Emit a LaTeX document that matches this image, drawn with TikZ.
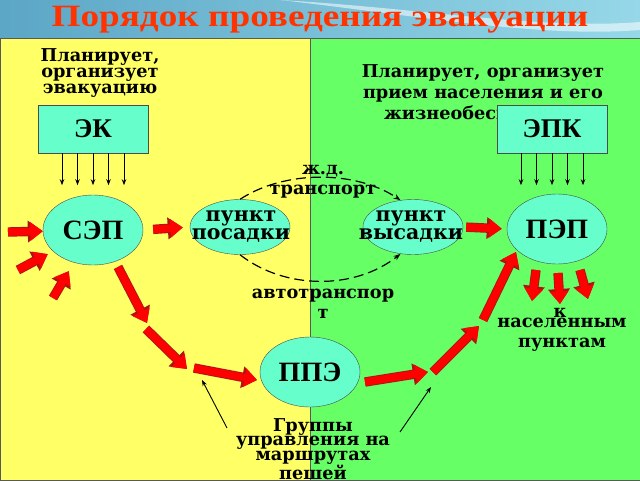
\documentclass[tikz,border=0pt]{standalone}
\usepackage{graphicx}
\usepackage{fontspec}
\setmainfont{DejaVu Serif}
\newfontfamily\timesfont{Liberation Serif}
\usetikzlibrary{positioning, arrows.meta, shapes.geometric}
\definecolor{panelyellow}{RGB}{255,255,102}
\definecolor{panelgreen}{RGB}{102,255,102}
\definecolor{aqua}{RGB}{102,255,204}
\definecolor{titlered}{RGB}{255,51,0}
\definecolor{arrowedge}{RGB}{170,20,20}
\definecolor{bannerleft}{RGB}{92,166,198}
\definecolor{bannerright}{RGB}{150,216,232}

\begin{document}
\begin{tikzpicture}
    [
        x=1pt, y=-1pt, node distance=173pt, on grid,
        box_node/.style={rectangle, draw=black!70, fill=aqua, minimum width=110pt, minimum height=48pt, font=\timesfont\bfseries\fontsize{27}{27}\selectfont},
        big_ell/.style={ellipse, draw=black!70, fill=aqua, minimum width=100pt, minimum height=70pt, inner sep=0pt, font=\timesfont\bfseries\fontsize{28}{28}\selectfont},
        small_ell/.style={ellipse, draw=black!70, fill=aqua, minimum width=100pt, minimum height=55pt, inner sep=0pt},
        ell_text/.style={align=center, inner sep=0pt, font=\bfseries\fontsize{20.5}{18}\selectfont},
        plain_text/.style={align=center, inner sep=0pt, font=\bfseries\fontsize{17.7}{20}\selectfont},
        red_arrow/.style={preaction={draw, line width=9.4pt, color=arrowedge, -{Triangle[width=21pt, length=15pt]}}, line width=7.6pt, color=red, -{Triangle[width=18pt, length=12.5pt]}},
        thin_arrow/.style={line width=0.9pt, color=black, -{Stealth[length=6pt, width=4.5pt]}},
        dash_arrow/.style={line width=1.2pt, color=black, dash pattern=on 10pt off 5pt, -{Stealth[length=7pt, width=5pt]}},
    ]
        \useasboundingbox (0,0) rectangle (640,480) ;
        \shade[left color=bannerleft, right color=bannerright] (0,0) rectangle (640,38) ;
        \fill[white, opacity=0.55] (280,0) .. controls (420,8) and (540,30) .. (640,22) -- (640,30) .. controls (540,38) and (420,16) .. (280,0) -- cycle ;
        \draw[fill=panelyellow, draw=black!65, line width=0.8pt] (0,38) rectangle (310,480) ;
        \draw[fill=panelgreen, draw=black!65, line width=0.8pt] (310,38) rectangle (640,480) ;
        \node[font=\timesfont\bfseries\fontsize{31}{31}\selectfont, text=titlered] (title) at (320,20) {\scalebox{1.2}[1]{Порядок проведения эвакуации}} ;
        \node[plain_text, font=\bfseries\fontsize{17.7}{16}\selectfont] (plan_left) at (100,73) {Планирует,\\организует\\эвакуацию} ;
        \node[plain_text, font=\bfseries\fontsize{17.7}{21}\selectfont] (plan_right) at (483,92) {Планирует, организует\\прием населения и его\\жизнеобеспечение} ;
        \node[box_node] (ek) at (93,129) {ЭК} ;
        \node[box_node] (epk) at (552,129) {ЭПК} ;
        \node[big_ell] (sep) at (93,230) {СЭП} ;
        \node[small_ell, label={[ell_text, xshift=1pt]center:{пункт\\посадки}}] (posadka) at (240,227) {} ;
        \node[small_ell, label={[ell_text, xshift=-2pt]center:{пункт\\высадки}}] (vysadka) [right = of posadka] {} ;
        \node[big_ell] (pep) at (557,229) {ПЭП} ;
        \node[big_ell] (ppe) at (310,372) {ППЭ} ;
        \node[plain_text] (zd_txt) at (323,182) {ж.д.\\транспорт} ;
        \node[plain_text] (avto_txt) at (323,304) {автотранспор\\т} ;
        \node[plain_text] (k_txt) at (560,313) {к} ;
        \node[plain_text] (nas_txt) at (562,335) {населенным\\пунктам} ;
        \node[plain_text, font=\bfseries\fontsize{17.7}{14.5}\selectfont] (group_txt) at (313,449) {Группы\\управления на\\маршрутах\\пешей} ;
        \foreach \dx in {-31,-15.5,0,15.5,31} {
            \draw[thin_arrow] ([xshift=\dx pt]ek.south) -- ++(0,32) ;
            \draw[thin_arrow] ([xshift=\dx pt]epk.south) -- ++(0,32) ;
        }
        \draw[dash_arrow] (posadka.north) .. controls (285,170) and (355,170) .. (vysadka.115) ;
        \draw[dash_arrow] (posadka.south) .. controls (285,290) and (355,290) .. (vysadka.-115) ;
        \coordinate (in_a) at (8,232) ;
        \coordinate (in_b) at (18,270) ;
        \coordinate (in_c) at (53,298) ;
        \coordinate (lp1) at (118,267) ;
        \coordinate (lp2) at (147,323) ;
        \coordinate (lp3) at (146,329) ;
        \coordinate (lp4) at (187,369) ;
        \coordinate (lp5) at (194,368) ;
        \coordinate (lp6) at (257,380) ;
        \coordinate (rp1) at (365,382) ;
        \coordinate (rp2) at (428,372) ;
        \coordinate (rp3) at (433,372) ;
        \coordinate (rp4) at (479,326) ;
        \coordinate (rp5) at (483,320) ;
        \coordinate (rp6) at (516,252) ;
        \coordinate (out_a) at (536,270) ;
        \coordinate (out_a_end) at (532,301) ;
        \coordinate (out_b) at (558,273) ;
        \coordinate (out_b_end) at (560,304) ;
        \coordinate (out_c) at (580,270) ;
        \coordinate (out_c_end) at (588,299) ;
        \coordinate (grp_l) at (227,428) ;
        \coordinate (grp_l_end) at (202,380) ;
        \coordinate (grp_r) at (400,432) ;
        \coordinate (grp_r_end) at (431,387) ;
        \draw[red_arrow] (in_a) -- (sep) ;
        \draw[red_arrow, shorten >=6pt] (in_b) -- (sep) ;
        \draw[red_arrow, shorten >=10pt] (in_c) -- (sep) ;
        \draw[red_arrow, shorten <=10pt, shorten >=7pt] (sep.east) -- (posadka.west) ;
        \draw[red_arrow, shorten <=3pt, shorten >=5pt] (vysadka.east) -- (pep.west) ;
        \draw[red_arrow] (lp1) -- (lp2) ;
        \draw[red_arrow] (lp3) -- (lp4) ;
        \draw[red_arrow] (lp5) -- (lp6) ;
        \draw[red_arrow] (rp1) -- (rp2) ;
        \draw[red_arrow] (rp3) -- (rp4) ;
        \draw[red_arrow] (rp5) -- (rp6) ;
        \draw[red_arrow] (out_a) -- (out_a_end) ;
        \draw[red_arrow] (out_b) -- (out_b_end) ;
        \draw[red_arrow] (out_c) -- (out_c_end) ;
        \draw[thin_arrow] (grp_l) -- (grp_l_end) ;
        \draw[thin_arrow] (grp_r) -- (grp_r_end) ;
\end{tikzpicture}
\end{document}
